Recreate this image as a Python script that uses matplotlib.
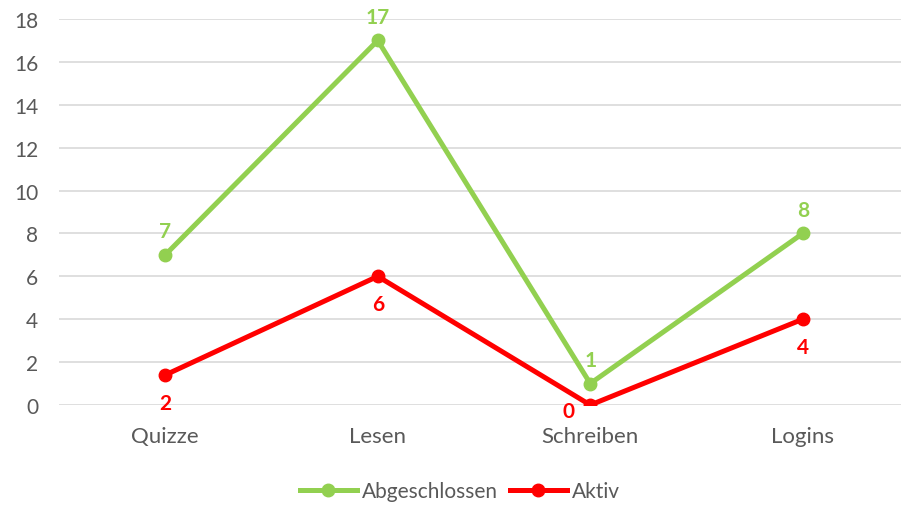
import matplotlib.pyplot as plt

categories = ['Quizze', 'Lesen', 'Schreiben', 'Logins']
abgeschlossen = [7, 17, 1, 8]
aktiv = [1.4, 6, 0, 4]
aktiv_labels = ['2', '6', '0', '4']

green = '#92D050'
red = '#FF0000'

plt.rcParams['font.family'] = ['Lato', 'DejaVu Sans']

fig = plt.figure(figsize=(9.01, 5.06), dpi=100)
ax = fig.add_axes([59 / 901, 100 / 506, 850 / 901, 386 / 506])

x = range(len(categories))
ax.plot(x, abgeschlossen, color=green, lw=3.6, marker='o', ms=9, label='Abgeschlossen', zorder=3)
ax.plot(x, aktiv, color=red, lw=3.6, marker='o', ms=9, label='Aktiv', zorder=3)

for i, v in enumerate(abgeschlossen):
    ax.annotate(str(v), (i, v), xytext=(0, 10), textcoords='offset points',
                ha='center', va='bottom', color=green, fontsize=15, fontweight='bold')

for i, v in enumerate(aktiv):
    if categories[i] == 'Schreiben':
        ax.annotate(aktiv_labels[i], (i, v), xytext=(-11, -4), textcoords='offset points',
                    ha='right', va='center', color=red, fontsize=15, fontweight='bold')
    else:
        ax.annotate(aktiv_labels[i], (i, v), xytext=(0, -13), textcoords='offset points',
                    ha='center', va='top', color=red, fontsize=15, fontweight='bold')

ax.set_xlim(-0.5, 3.5)
ax.set_ylim(0, 18)
ax.set_yticks(range(0, 19, 2))
ax.set_xticks(list(x))
ax.set_xticklabels(categories, fontsize=16)
ax.grid(axis='y', color='#d9d9d9', lw=1.2)
ax.set_axisbelow(True)
for s in ax.spines.values():
    s.set_visible(False)
ax.tick_params(length=0, colors='#595959')
ax.tick_params(axis='y', pad=15, labelsize=15)
ax.tick_params(axis='x', pad=15)

fig.legend(*ax.get_legend_handles_labels(), loc='center',
           bbox_to_anchor=(460 / 901, 1 - 492 / 506), ncol=2, frameon=False,
           fontsize=15, labelcolor='#595959', handlelength=2.7, handletextpad=0.25,
           columnspacing=0.6, borderpad=0)

fig.savefig('out.png', dpi=100)
